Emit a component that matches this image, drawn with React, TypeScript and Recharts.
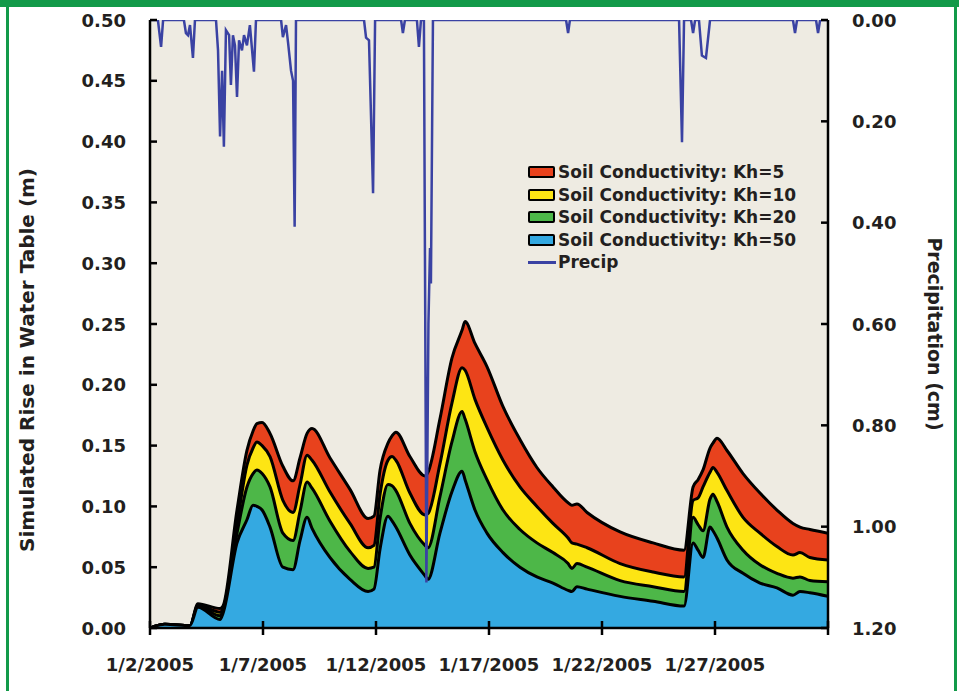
import React from 'react';
import { ComposedChart, Area, Line, XAxis, YAxis, CartesianGrid } from 'recharts';

// Days since 1/2/2005 (0 = 1/2/2005, 30 = 2/1/2005)
const days = [
  0, 0.66, 1.77, 2.12, 3.10, 3.23, 3.85, 4.29, 4.56, 4.73,
  4.96, 5.31, 5.88, 6.33, 6.64, 6.95, 7.17, 7.96, 8.85, 9.65,
  9.91, 10.18, 10.53, 10.71, 10.88, 11.50, 12.17, 12.30, 12.83, 13.36,
  13.81, 13.94, 14.38, 14.91, 15.62, 16.37, 17.12, 17.83, 18.50, 18.67,
  18.89, 19.34, 20.80, 22.26, 23.63, 24.03, 24.25, 24.47, 24.78, 24.91,
  25.09, 25.53, 26.24, 26.99, 27.74, 28.45, 28.76, 29.20, 30.00,
];

const kh5 = [
  0, 0.003, 0.002, 0.020, 0.016, 0.018, 0.097, 0.146, 0.162, 0.168,
  0.169, 0.160, 0.133, 0.121, 0.140, 0.160, 0.164, 0.140, 0.114, 0.090,
  0.092, 0.130, 0.152, 0.158, 0.161, 0.141, 0.125, 0.128, 0.172, 0.222,
  0.245, 0.252, 0.234, 0.215, 0.182, 0.155, 0.132, 0.116, 0.103, 0.101,
  0.102, 0.095, 0.079, 0.070, 0.064, 0.116, 0.122, 0.130, 0.148, 0.152,
  0.156, 0.146, 0.127, 0.111, 0.097, 0.086, 0.083, 0.081, 0.078,
];

const kh10 = [
  0, 0.003, 0.002, 0.019, 0.013, 0.016, 0.085, 0.134, 0.148, 0.153,
  0.150, 0.141, 0.105, 0.095, 0.118, 0.142, 0.138, 0.112, 0.086, 0.066,
  0.068, 0.110, 0.138, 0.141, 0.138, 0.111, 0.093, 0.094, 0.135, 0.185,
  0.214, 0.212, 0.188, 0.165, 0.138, 0.116, 0.100, 0.086, 0.074, 0.070,
  0.069, 0.066, 0.053, 0.046, 0.042, 0.105, 0.107, 0.116, 0.128, 0.132,
  0.128, 0.113, 0.091, 0.078, 0.067, 0.060, 0.062, 0.058, 0.056,
];

const kh20 = [
  0, 0.003, 0.002, 0.018, 0.010, 0.014, 0.078, 0.116, 0.127, 0.130,
  0.127, 0.116, 0.078, 0.072, 0.096, 0.120, 0.115, 0.088, 0.063, 0.049,
  0.050, 0.090, 0.118, 0.117, 0.113, 0.086, 0.068, 0.066, 0.108, 0.153,
  0.178, 0.172, 0.145, 0.122, 0.097, 0.081, 0.070, 0.062, 0.053, 0.049,
  0.053, 0.050, 0.039, 0.034, 0.030, 0.091, 0.085, 0.080, 0.106, 0.110,
  0.104, 0.083, 0.064, 0.052, 0.045, 0.041, 0.042, 0.039, 0.038,
];

const kh50 = [
  0, 0.003, 0.002, 0.017, 0.007, 0.012, 0.070, 0.089, 0.101, 0.100,
  0.097, 0.083, 0.050, 0.048, 0.072, 0.091, 0.082, 0.058, 0.040, 0.030,
  0.032, 0.065, 0.092, 0.088, 0.083, 0.060, 0.043, 0.040, 0.078, 0.112,
  0.129, 0.122, 0.097, 0.078, 0.062, 0.050, 0.042, 0.037, 0.031, 0.030,
  0.034, 0.032, 0.026, 0.022, 0.018, 0.070, 0.064, 0.058, 0.083, 0.080,
  0.074, 0.056, 0.045, 0.037, 0.033, 0.027, 0.030, 0.029, 0.026,
];

const precipDays = [
  0, 0.35, 0.49, 0.58, 1.50, 1.59, 1.68, 1.77, 1.90, 1.99,
  2.92, 3.01, 3.10, 3.19, 3.27, 3.36, 3.50, 3.58, 3.67, 3.76,
  3.85, 3.94, 4.07, 4.16, 4.29, 4.42, 4.60, 4.69, 5.80, 5.88,
  6.02, 6.11, 6.24, 6.33, 6.40, 6.46, 9.47, 9.56, 9.69, 9.87,
  9.96, 11.11, 11.19, 11.28, 11.81, 11.90, 11.99, 12.12, 12.23, 12.32,
  12.39, 12.43, 12.52, 18.41, 18.50, 18.58, 23.41, 23.54, 23.63, 23.94,
  24.03, 24.12, 24.29, 24.42, 24.60, 24.78, 28.45, 28.54, 28.63, 29.47,
  29.56, 29.65, 30.00,
];

const precipCm = [
  0, 0, 0.053, 0, 0, 0.026, 0.03, 0.01, 0.075, 0,
  0, 0.06, 0.23, 0.10, 0.25, 0.02, 0.03, 0.128, 0.03, 0.05,
  0.152, 0.04, 0.06, 0.03, 0.05, 0.01, 0.102, 0, 0, 0.034,
  0.01, 0.045, 0.10, 0.12, 0.408, 0, 0, 0.035, 0.04, 0.342,
  0, 0, 0.026, 0, 0, 0.053, 0, 0, 1.11, 0.60,
  0.45, 0.52, 0, 0, 0.026, 0, 0, 0.241, 0, 0,
  0.026, 0, 0, 0.07, 0.075, 0, 0, 0.026, 0, 0,
  0.026, 0, 0,
];

const xTickDays = [0, 5, 10, 15, 20, 25, 30];
const xTickLabels = ['1/2/2005', '1/7/2005', '1/12/2005', '1/17/2005', '1/22/2005', '1/27/2005', ''];
const leftTicks = [0, 0.05, 0.1, 0.15, 0.2, 0.25, 0.3, 0.35, 0.4, 0.45, 0.5];
const rightTicks = [0, 0.2, 0.4, 0.6, 0.8, 1.0, 1.2];

const seriesKeys = ['kh5', 'kh10', 'kh20', 'kh50'];
const seriesNames = [
  'Soil Conductivity: Kh=5',
  'Soil Conductivity: Kh=10',
  'Soil Conductivity: Kh=20',
  'Soil Conductivity: Kh=50',
];
const seriesColors = ['#E8421D', '#FDE514', '#4DB748', '#34A9E1'];
const precipName = 'Precip';
const precipColor = '#3A42A3';
const plotBg = '#EEEBE2';
const frameGreen = '#129A49';
const FONT = '"DejaVu Sans", sans-serif';
const textColor = '#231F20';

const seriesValues = [kh5, kh10, kh20, kh50];
const wtData = days.map((d, i) => {
  const row: any = { day: d };
  seriesKeys.forEach((k, j) => {
    row[k] = seriesValues[j][i];
  });
  return row;
});
const precipData = precipDays.map((d, i) => ({ day: d, precip: precipCm[i] }));

const LeftTick = (props: any) => {
  const { x, y, payload } = props;
  return (
    <g>
      <line x1={x} x2={x + 7} y1={y} y2={y} stroke="#000" strokeWidth={2.5} />
      <text x={x - 24} y={y} dy={6.5} textAnchor="end" fontFamily={FONT} fontWeight={700} fontSize={18} fill={textColor}>
        {Number(payload.value).toFixed(2)}
      </text>
    </g>
  );
};

const RightTick = (props: any) => {
  const { x, y, payload } = props;
  return (
    <g>
      <line x1={x - 7} x2={x} y1={y} y2={y} stroke="#000" strokeWidth={2.5} />
      <text x={x + 24} y={y} dy={6.5} textAnchor="start" fontFamily={FONT} fontWeight={700} fontSize={18} fill={textColor}>
        {Number(payload.value).toFixed(2)}
      </text>
    </g>
  );
};

const BottomTick = (props: any) => {
  const { x, y, payload } = props;
  const idx = xTickDays.indexOf(payload.value);
  const label = idx >= 0 ? xTickLabels[idx] : '';
  return (
    <g>
      <line x1={x} x2={x} y1={y - 7} y2={y + 7} stroke="#000" strokeWidth={2.5} />
      <text x={x} y={y + 43} textAnchor="middle" fontFamily={FONT} fontWeight={700} fontSize={18} fill={textColor}>
        {label}
      </text>
    </g>
  );
};

const LegendBox = () => (
  <div
    style={{
      position: 'absolute',
      left: 528,
      top: 161,
      fontFamily: FONT,
      fontWeight: 700,
      fontSize: 17,
      color: textColor,
    }}
  >
    {seriesNames.map((n, i) => (
      <div key={n} style={{ display: 'flex', alignItems: 'center', height: 22.5 }}>
        <span
          style={{
            display: 'inline-block',
            width: 23,
            height: 8,
            background: seriesColors[i],
            border: '2px solid #000',
            borderRadius: 2,
            marginRight: 3,
          }}
        />
        <span>{n}</span>
      </div>
    ))}
    <div style={{ display: 'flex', alignItems: 'center', height: 22.5 }}>
      <span style={{ display: 'inline-block', width: 28, height: 3, background: precipColor, marginRight: 2 }} />
      <span>{precipName}</span>
    </div>
  </div>
);

export default function App() {
  return (
    <div style={{ position: 'absolute', left: 0, top: 0, width: 959, height: 691, background: '#fff', overflow: 'hidden' }}>
      <div style={{ position: 'absolute', left: 0, top: 0, width: 959, height: 7, background: frameGreen }} />
      <div style={{ position: 'absolute', left: 6, top: 0, width: 3, height: 691, background: frameGreen }} />
      <div style={{ position: 'absolute', left: 954, top: 0, width: 3, height: 691, background: frameGreen }} />
      <div style={{ position: 'absolute', left: 0, top: 0 }}>
        <ComposedChart width={959} height={691} data={wtData} margin={{ top: 20, right: 61, bottom: 23, left: 80 }}>
          <CartesianGrid yAxisId="left" horizontal={false} vertical={false} fill={plotBg} stroke="none" />
          <XAxis
            dataKey="day"
            type="number"
            domain={[0, 30]}
            ticks={xTickDays}
            interval={0}
            height={40}
            tickSize={0}
            tickMargin={0}
            allowDataOverflow
            axisLine={{ stroke: '#000', strokeWidth: 2.5 }}
            tickLine={false}
            tick={<BottomTick />}
          />
          <YAxis
            yAxisId="left"
            orientation="left"
            domain={[0, 0.5]}
            ticks={leftTicks}
            interval={0}
            width={70}
            tickSize={0}
            tickMargin={0}
            allowDataOverflow
            axisLine={{ stroke: '#000', strokeWidth: 2.5 }}
            tickLine={false}
            tick={<LeftTick />}
          />
          <YAxis
            yAxisId="right"
            orientation="right"
            domain={[0, 1.2]}
            reversed
            ticks={rightTicks}
            interval={0}
            width={70}
            tickSize={0}
            tickMargin={0}
            allowDataOverflow
            axisLine={{ stroke: '#000', strokeWidth: 2.5 }}
            tickLine={false}
            tick={<RightTick />}
          />
          {seriesKeys.map((k, i) => (
            <Area
              key={k}
              yAxisId="left"
              dataKey={k}
              name={seriesNames[i]}
              type="monotone"
              stroke="#000"
              strokeWidth={3}
              fill={seriesColors[i]}
              fillOpacity={1}
              dot={false}
              activeDot={false}
              isAnimationActive={false}
            />
          ))}
          <Line
            yAxisId="right"
            data={precipData}
            dataKey="precip"
            name={precipName}
            type="linear"
            stroke={precipColor}
            strokeWidth={2.5}
            dot={false}
            activeDot={false}
            isAnimationActive={false}
          />
        </ComposedChart>
      </div>
      <svg style={{ position: 'absolute', left: 0, top: 0 }} width={959} height={691} pointerEvents="none">
        <text
          transform="translate(34,360) rotate(-90)"
          textAnchor="middle"
          fontFamily={FONT}
          fontWeight={700}
          fontSize={20}
          fill={textColor}
        >
          Simulated Rise in Water Table (m)
        </text>
        <text
          transform="translate(928,334) rotate(90)"
          textAnchor="middle"
          fontFamily={FONT}
          fontWeight={700}
          fontSize={19}
          fill={textColor}
        >
          Precipitation (cm)
        </text>
      </svg>
      <LegendBox />
    </div>
  );
}
